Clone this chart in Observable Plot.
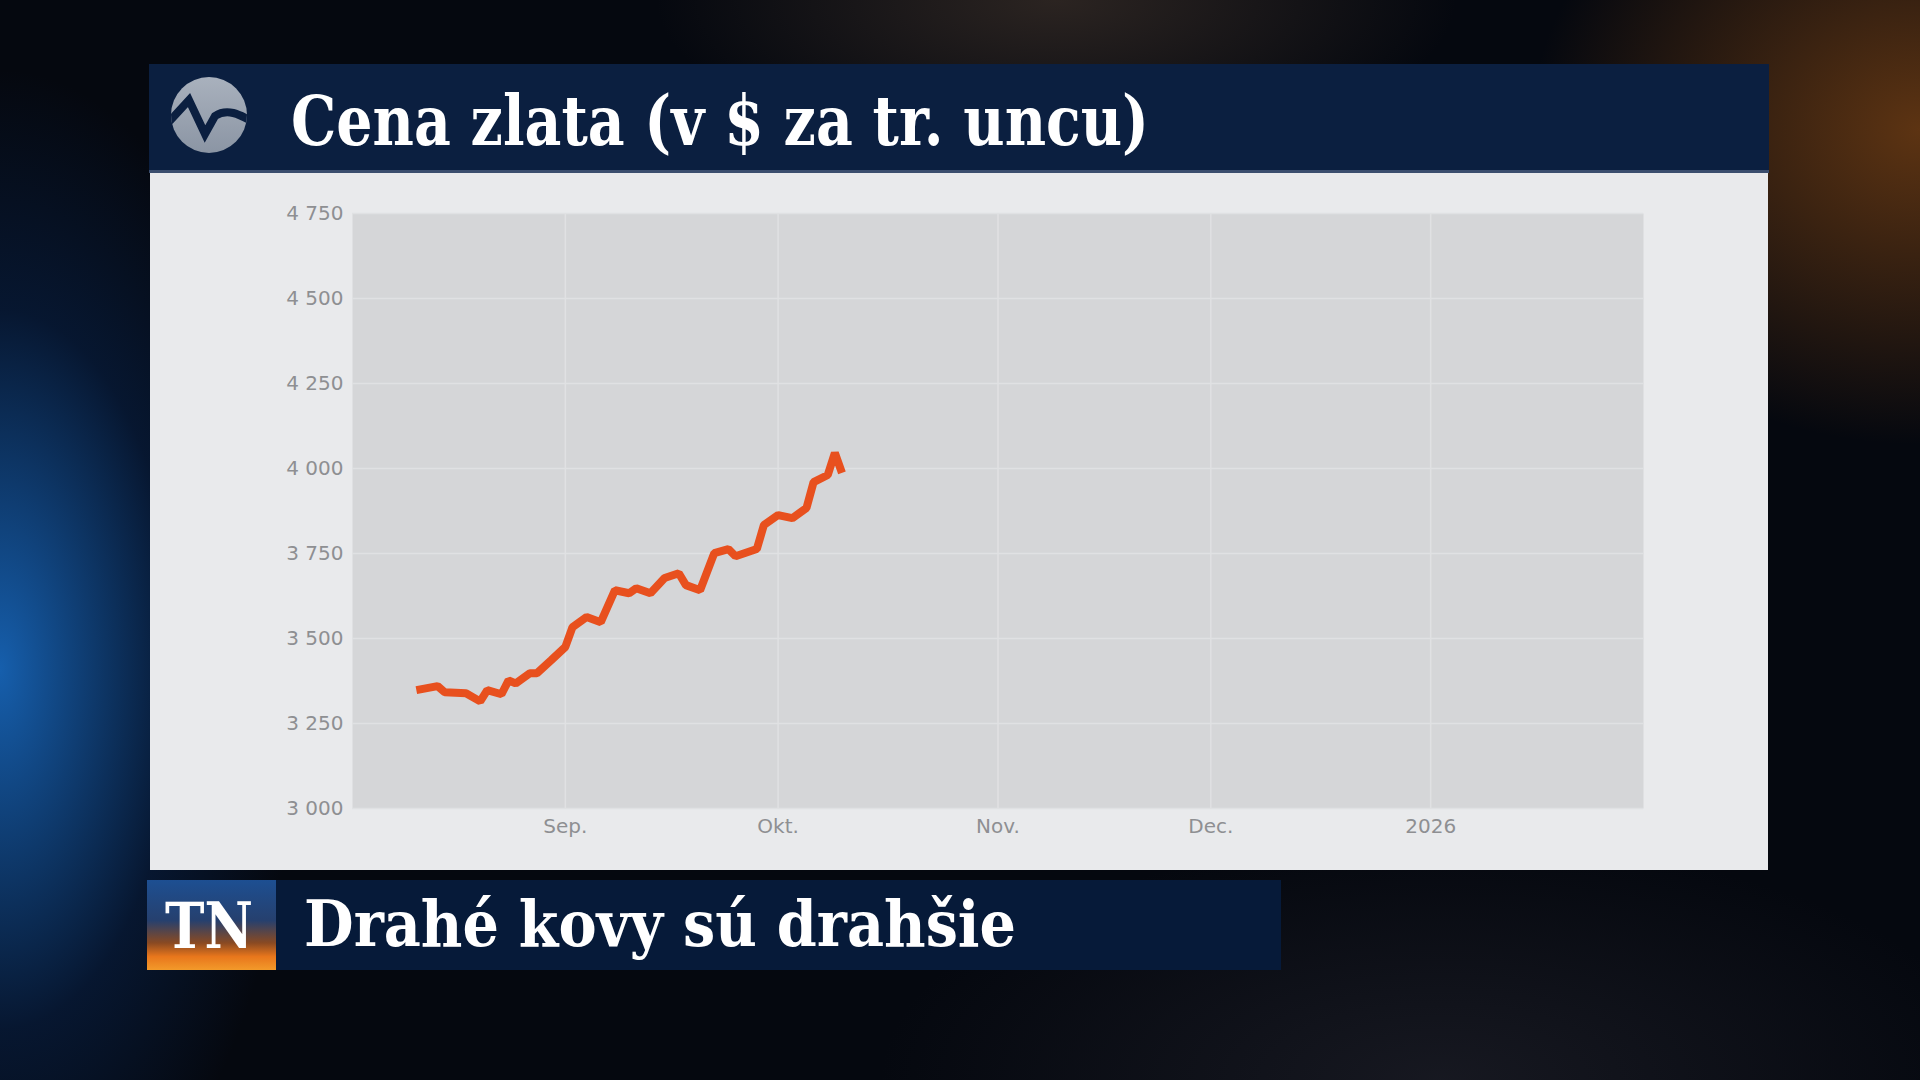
<!DOCTYPE html>
<html>
<head>
<meta charset="utf-8">
<script src="https://cdn.jsdelivr.net/npm/d3@7"></script>
<script src="https://cdn.jsdelivr.net/npm/@observablehq/plot@0.6"></script>
<style>
html, body { margin: 0; padding: 0; width: 1920px; height: 1080px; overflow: hidden; background: #04070d; }
#bg {
  position: absolute; left: 0; top: 0; width: 1920px; height: 1080px;
  background:
    radial-gradient(ellipse 300px 600px at 0% 62%, rgba(25,110,200,0.85), rgba(10,50,110,0.35) 60%, transparent 100%),
    radial-gradient(ellipse 520px 420px at 100% 12%, rgba(140,75,20,0.65), transparent 75%),
    radial-gradient(ellipse 500px 200px at 55% 0%, rgba(90,70,55,0.45), transparent 80%),
    radial-gradient(ellipse 700px 300px at 75% 100%, rgba(40,40,50,0.5), transparent 80%),
    #05080f;
}
#panel { position: absolute; left: 150px; top: 173px; width: 1618px; height: 697px; background: #e9eaec; }
#chart { position: absolute; left: 150px; top: 173px; }
#hdr { position: absolute; left: 149px; top: 64px; }
#banner { position: absolute; left: 147px; top: 880px; }
</style>
</head>
<body>
<div id="bg"></div>
<svg id="hdr" width="1620" height="110">
  <rect x="0" y="0" width="1620" height="109" fill="#0b1f40"/>
  <rect x="0" y="106" width="1620" height="3" fill="#3b4e6e"/>
  <defs>
    <clipPath id="lc"><circle cx="60" cy="51" r="38"/></clipPath>
    <linearGradient id="lg" x1="0" y1="0" x2="0" y2="1">
      <stop offset="0" stop-color="#a9b1bd"/>
      <stop offset="1" stop-color="#8b95a4"/>
    </linearGradient>
  </defs>
  <circle cx="60" cy="51" r="38" fill="url(#lg)"/>
  <path clip-path="url(#lc)" d="M 18 60 L 40 36 L 56 70 L 66 52 C 78 44, 90 50, 104 58" fill="none" stroke="#0b1f40" stroke-width="8" stroke-linejoin="miter"/>
  <text x="142" y="81" font-family="DejaVu Serif" font-weight="bold" font-size="70" fill="#ffffff" textLength="858" lengthAdjust="spacingAndGlyphs">Cena zlata (v $ za tr. uncu)</text>
</svg>
<div id="panel"></div>
<div id="chart"></div>
<svg id="banner" width="1134" height="90">
  <defs>
    <linearGradient id="tng" x1="0" y1="0" x2="0" y2="1">
      <stop offset="0" stop-color="#1d4f92"/>
      <stop offset="0.45" stop-color="#26406e"/>
      <stop offset="0.7" stop-color="#8a4a22"/>
      <stop offset="0.85" stop-color="#e8761c"/>
      <stop offset="1" stop-color="#f39a2a"/>
    </linearGradient>
  </defs>
  <rect x="0" y="0" width="1134" height="90" fill="#061a39"/>
  <rect x="0" y="0" width="129" height="90" fill="url(#tng)"/>
  <text x="18" y="68" font-family="DejaVu Serif" font-weight="bold" font-size="64" fill="#ffffff" textLength="88" lengthAdjust="spacingAndGlyphs">TN</text>
  <text x="157" y="66" font-family="DejaVu Serif" font-weight="bold" font-size="64" fill="#ffffff" textLength="712" lengthAdjust="spacingAndGlyphs">Drahé kovy sú drahšie</text>
</svg>
<script>
// ---- data ----
const dates = ["2025-08-11","2025-08-14","2025-08-15","2025-08-18","2025-08-20","2025-08-21","2025-08-23","2025-08-24","2025-08-25","2025-08-27","2025-08-28","2025-08-30","2025-09-01","2025-09-02","2025-09-04","2025-09-06","2025-09-08","2025-09-10","2025-09-11","2025-09-13","2025-09-15","2025-09-17","2025-09-18","2025-09-20","2025-09-22","2025-09-24","2025-09-25","2025-09-28","2025-09-29","2025-10-01","2025-10-03","2025-10-05","2025-10-06","2025-10-08","2025-10-09","2025-10-10"];
const prices = [3348,3360,3342,3339,3315,3348,3336,3377,3368,3398,3398,3436,3475,3533,3563,3548,3642,3633,3648,3633,3678,3692,3657,3642,3751,3763,3742,3763,3834,3863,3854,3884,3960,3981,4046,3987];
const yTicks = [3000, 3250, 3500, 3750, 4000, 4250, 4500, 4750];
const xTickDates = ["2025-09-01","2025-10-01","2025-11-01","2025-12-01","2026-01-01"];
const xTickLabels = ["Sep.","Okt.","Nov.","Dec.","2026"];
const xDomain = ["2025-08-02","2026-01-31"];
const yDomain = [3000, 4750];

const parse = d3.utcParse("%Y-%m-%d");
const data = dates.map((d, i) => ({date: parse(d), price: prices[i]}));
const xTicks = xTickDates.map(parse);
const labelMap = new Map(xTickDates.map((d, i) => [+parse(d), xTickLabels[i]]));
const loc = d3.formatLocale({decimal: ",", thousands: "\u00a0", grouping: [3], currency: ["", ""]});
const fmt = loc.format(",");

const chart = Plot.plot({
  width: 1618,
  height: 697,
  marginLeft: 202,
  marginRight: 125,
  marginTop: 40,
  marginBottom: 62,
  style: {background: "transparent", fontFamily: "DejaVu Sans", fontSize: "20px", color: "#8e8f92", overflow: "visible"},
  x: {type: "utc", domain: xDomain.map(parse), ticks: xTicks, tickFormat: d => labelMap.get(+d), tickSize: 0, tickPadding: 10, label: null},
  y: {domain: yDomain, ticks: yTicks, tickFormat: fmt, tickSize: 0, tickPadding: 9, label: null},
  marks: [
    Plot.frame({fill: "#d5d6d8", stroke: null}),
    Plot.gridX(xTicks, {stroke: "#e0e1e3", strokeOpacity: 1, strokeWidth: 1.5}),
    Plot.gridY(yTicks, {stroke: "#e0e1e3", strokeOpacity: 1, strokeWidth: 1.5}),
    Plot.line(data, {x: "date", y: "price", stroke: "#e8501e", strokeWidth: 8, strokeLinejoin: "miter", strokeLinecap: "butt"})
  ]
});
document.getElementById("chart").appendChild(chart);
</script>
</body>
</html>
